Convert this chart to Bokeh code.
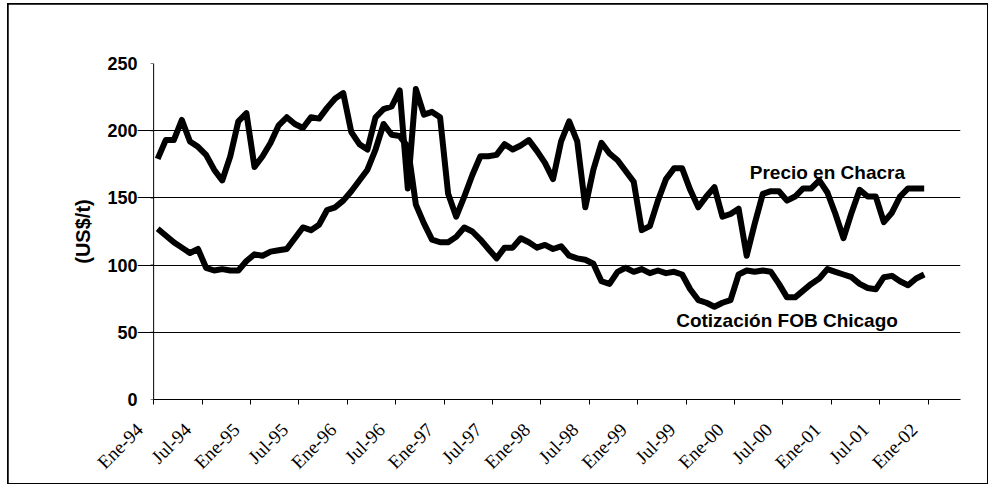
import math
from bokeh.plotting import figure
from bokeh.models import Range1d, FixedTicker, Label, ColumnDataSource, LinearAxis, Span
from bokeh.embed import file_html
from bokeh.resources import INLINE

# ---- data (monthly, Ene-94 .. Dic-01) ----
precio = [179, 193, 193, 208, 192, 188, 182, 171, 163, 181, 207, 213,
          173, 181, 191, 204, 210, 205, 202, 210, 209, 217, 224, 228,
          199, 190, 186, 210, 216, 218, 230, 157, 231, 212, 214, 210,
          153, 136, 151, 167, 181, 181, 182, 190, 186, 189, 193, 185,
          176, 164, 192, 207, 192, 143, 171, 191, 183, 178, 170, 162,
          126, 129, 148, 164, 172, 172, 156, 143, 151, 158, 136, 138,
          142, 107, 131, 153, 155, 155, 148, 151, 157, 157, 163, 154,
          138, 120, 139, 156, 151, 151, 132, 139, 151, 157, 157, 157]
fob = [127, 122, 117, 113, 109, 112, 98, 96, 97, 96, 96, 103,
       108, 107, 110, 111, 112, 120, 128, 126, 130, 141, 143, 148,
       155, 163, 171, 186, 205, 197, 196, 188, 145, 131, 119, 117,
       117, 121, 128, 125, 119, 112, 105, 113, 113, 120, 117, 113,
       115, 112, 114, 107, 105, 104, 101, 88, 86, 95, 98, 95,
       97, 94, 96, 94, 95, 93, 82, 74, 72, 69, 72, 74,
       93, 96, 95, 96, 95, 86, 76, 76, 81, 86, 90, 97,
       95, 93, 91, 86, 83, 82, 91, 92, 88, 85, 90, 93]
tick_labels = ["Ene-94", "Jul-94", "Ene-95", "Jul-95", "Ene-96", "Jul-96",
               "Ene-97", "Jul-97", "Ene-98", "Jul-98", "Ene-99", "Jul-99",
               "Ene-00", "Jul-00", "Ene-01", "Jul-01", "Ene-02"]
y_ticks = [0, 50, 100, 150, 200, 250]
series_names = ["Precio en Chacra", "Cotización FOB Chicago"]

n_cat = 100  # axis spans 100 monthly categories
pad = 2.0    # room left of the axis so the first rotated label can be set
x = [i + 0.5 for i in range(len(precio))]
src = ColumnDataSource(dict(x=x, precio=precio, fob=fob))

p = figure(width=979, height=479, output_backend="svg", toolbar_location=None,
           x_range=Range1d(-pad, n_cat), y_range=Range1d(0, 250),
           min_border_left=129, min_border_right=27,
           min_border_top=59, min_border_bottom=83)
p.margin = (4, 4, 21, 8)
p.styles = {"outline": "2px solid black", "outline-offset": "-1px"}
p.outline_line_color = None
p.background_fill_color = "white"
p.border_fill_color = "white"

# gridlines only across the plot area
p.xgrid.grid_line_color = None
p.ygrid.ticker = FixedTicker(ticks=y_ticks[1:])
p.ygrid.grid_line_color = "black"
p.ygrid.grid_line_width = 1
p.ygrid.bounds = (0, n_cat)

# value axis line and its small outward ticks
p.add_layout(Span(location=0, dimension="height", line_color="black", line_width=1))
p.segment(x0=[-3 / 8.07] * len(y_ticks), y0=y_ticks, x1=[0] * len(y_ticks),
          y1=y_ticks, line_color="black", line_width=1)

p.line("x", "precio", source=src, line_color="black", line_width=6,
       line_join="round")
p.line("x", "fob", source=src, line_color="black", line_width=6,
       line_join="round")

# x axis: line and tick marks
xt = [6 * k for k in range(len(tick_labels))]
p.xaxis.bounds = (0, n_cat)
p.xaxis.ticker = FixedTicker(ticks=xt)
p.xaxis.major_label_overrides = {t: "" for t in xt}
p.xaxis.major_label_text_font_size = "1px"
p.xaxis.major_label_standoff = 0
p.xaxis.major_tick_out = 5
p.xaxis.major_tick_in = 0
p.xaxis.minor_tick_line_color = None
p.xaxis.axis_line_color = "black"
p.xaxis.major_tick_line_color = "black"

# x axis labels, set just left of each tick as in the original
shift = 1.75
lt = [t - shift for t in xt]
lab_axis = LinearAxis(ticker=FixedTicker(ticks=lt), bounds=(-pad, 97.0),
                      major_label_overrides={a: b for a, b in zip(lt, tick_labels)},
                      major_label_orientation=math.pi / 4,
                      major_label_text_font="Liberation Serif",
                      major_label_text_font_size="19px",
                      major_label_text_color="black",
                      major_label_standoff=16,
                      major_tick_line_color=None, minor_tick_line_color=None,
                      axis_line_color=None)
p.add_layout(lab_axis, "below")

# y axis (labels and title; line and ticks drawn above)
p.yaxis.ticker = FixedTicker(ticks=y_ticks)
p.yaxis.major_label_text_font = "Liberation Sans"
p.yaxis.major_label_text_font_style = "bold"
p.yaxis.major_label_text_font_size = "18px"
p.yaxis.major_label_text_color = "black"
p.yaxis.major_tick_out = 0
p.yaxis.major_tick_in = 0
p.yaxis.major_tick_line_color = None
p.yaxis.minor_tick_line_color = None
p.yaxis.axis_line_color = None
p.yaxis.major_label_standoff = 0
p.yaxis.axis_label = "(US$/t)"
p.yaxis.axis_label_text_font = "Liberation Sans"
p.yaxis.axis_label_text_font_style = "bold"
p.yaxis.axis_label_text_font_size = "20px"
p.yaxis.axis_label_text_color = "black"
p.yaxis.axis_label_standoff = 10

p.add_layout(Label(x=83.5, y=169.0, text=series_names[0], text_align="center",
                   text_baseline="alphabetic", text_font="Liberation Sans",
                   text_font_style="bold", text_font_size="19px",
                   text_color="black"))
p.add_layout(Label(x=78.5, y=59.0, text=series_names[1], text_align="center",
                   text_baseline="alphabetic", text_font="Liberation Sans",
                   text_font_style="bold", text_font_size="19px",
                   text_color="black"))

open("out.html", "w").write(file_html(p, INLINE))
